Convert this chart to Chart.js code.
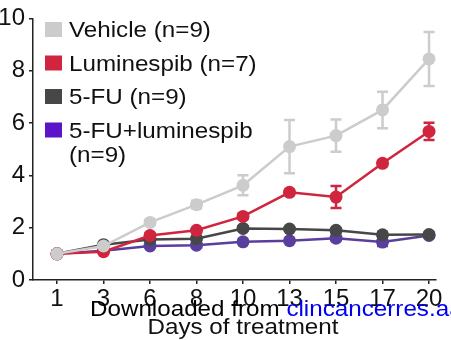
<!DOCTYPE html>
<html lang="en">
<head>
<meta charset="UTF-8">
<title>Tumor volume - days of treatment</title>
<script src="https://cdn.jsdelivr.net/npm/chart.js"></script>
<style>
  html, body { margin: 0; padding: 0; background: #fff; }
</style>
</head>
<body>
<canvas id="grafico" width="451" height="340"></canvas>

<script>
// dados
const dias = ['1', '3', '6', '8', '10', '13', '15', '17', '20'];
const grupos = ['Vehicle (n=9)', 'Luminespib (n=7)', '5-FU (n=9)', '5-FU+luminespib\n(n=9)'];
const vehicle = [1.0, 1.3, 2.2, 2.88, 3.62, 5.1, 5.52, 6.5, 8.45];
const vehicleErr = [0.02, 0.08, 0.1, 0.15, 0.38, 1.02, 0.62, 0.7, 1.03];
const luminespib = [1.0, 1.08, 1.7, 1.9, 2.43, 3.35, 3.17, 4.46, 5.68];
const luminespibErr = [0.02, 0.05, 0.1, 0.08, 0.1, 0.1, 0.42, 0.1, 0.33];
const fu = [1.0, 1.35, 1.55, 1.58, 1.97, 1.95, 1.9, 1.73, 1.74];
const fuErr = [0.02, 0.05, 0.08, 0.08, 0.08, 0.07, 0.08, 0.08, 0.08];
const combo = [1.0, 1.12, 1.3, 1.33, 1.46, 1.5, 1.6, 1.45, 1.7];
const comboErr = [0.02, 0.04, 0.06, 0.06, 0.05, 0.06, 0.08, 0.15, 0.08];
const yTicks = [0, 2, 4, 6, 8, 10];

const cores = ['#cccccc', '#d0253e', '#474747', '#5a3e9c'];
const coresCaixa = ['#cccccc', '#d0253e', '#474747', '#5b14c8'];
const fonte = '"Liberation Sans", Arial, sans-serif';

function pontos(vals) {
    return vals.map((v, i) => ({ x: i, y: v }));
}

const series = [vehicle, luminespib, fu, combo];
const erros = [vehicleErr, luminespibErr, fuErr, comboErr];

// texto um pouco esticado na horizontal como no original
function texto(ctx, t, x, y, cor) {
    ctx.save();
    ctx.translate(x, y);
    ctx.scale(1.1, 1);
    ctx.fillStyle = cor || '#111';
    ctx.fillText(t, 0, 0);
    ctx.restore();
}

const barrasErro = {
    id: 'barrasErro',
    afterDatasetDraw(chart, args) {
        const ctx = chart.ctx;
        const i = args.index;
        const ds = chart.data.datasets[i];
        const xs = chart.scales.x, ys = chart.scales.y;
        ctx.save();
        ctx.strokeStyle = ds.borderColor;
        ctx.lineWidth = 2.5;
        ds.data.forEach((p, j) => {
            const e = erros[i][j];
            const px = xs.getPixelForValue(p.x);
            const top = ys.getPixelForValue(p.y + e);
            const bot = ys.getPixelForValue(p.y - e);
            ctx.beginPath();
            ctx.moveTo(px, top); ctx.lineTo(px, bot);
            ctx.moveTo(px - 5.5, top); ctx.lineTo(px + 5.5, top);
            ctx.moveTo(px - 5.5, bot); ctx.lineTo(px + 5.5, bot);
            ctx.stroke();
        });
        ctx.restore();
    }
};

const legenda = {
    id: 'legenda',
    afterDraw(chart) {
        const ctx = chart.ctx;
        ctx.save();
        ctx.font = '22px ' + fonte;
        ctx.textBaseline = 'alphabetic';
        let y = 29;
        chart.data.datasets.forEach((ds, i) => {
            ctx.fillStyle = coresCaixa[i];
            ctx.fillRect(45, y - 7, 17, 15);
            const linhas = ds.label.split('\n');
            linhas.forEach((t, j) => texto(ctx, t, 69, y + 8 + j * 24));
            y += 33.5 + (linhas.length - 1) * 24;
        });

        // marca d'agua e titulo do eixo x
        ctx.font = '22px ' + fonte;
        texto(ctx, 'Downloaded from ', 90, 316, '#000');
        const w = ctx.measureText('Downloaded from ').width * 1.1;
        texto(ctx, 'clincancerres.aacrjournals.org', 90 + w, 316, '#0000ee');
        const tw = ctx.measureText('Days of treatment').width * 1.1;
        texto(ctx, 'Days of treatment', 243 - tw / 2, 334, '#111');
        ctx.restore();
    }
};

const data = {
    datasets: grupos.map((g, i) => ({
        label: g,
        data: pontos(series[i]),
        borderColor: cores[i],
        backgroundColor: cores[i],
        pointBackgroundColor: cores[i],
        pointBorderWidth: 0,
        pointRadius: 6.5,
        borderWidth: 2.5,
        tension: 0
    }))
};

const config = {
    type: 'line',
    data: data,
    options: {
        responsive: false,
        animation: false,
        layout: {
            padding: { top: 14, right: 15, left: 0, bottom: 0 }
        },
        scales: {
            x: {
                type: 'linear',
                min: -0.516,
                max: 8.15,
                afterBuildTicks: s => { s.ticks = dias.map((d, i) => ({ value: i })); },
                afterFit: s => { s.height = 60; },
                ticks: {
                    callback: v => dias[v],
                    color: '#111',
                    padding: 1,
                    maxRotation: 0,
                    autoSkip: false,
                    font: { family: fonte, size: 24 }
                },
                grid: { drawOnChartArea: false, drawTicks: true, tickLength: 4, color: '#222', lineWidth: 1.5 },
                border: { display: true, color: '#222', width: 1.5 }
            },
            y: {
                min: 0,
                max: 10,
                afterBuildTicks: s => { s.ticks = yTicks.map(v => ({ value: v })); },
                afterFit: s => { s.width = 33; },
                ticks: {
                    color: '#111',
                    padding: 4,
                    font: { family: fonte, size: 24 }
                },
                grid: { drawOnChartArea: false, drawTicks: true, tickLength: 4, color: '#222', lineWidth: 1.5 },
                border: { display: true, color: '#222', width: 1.5 }
            }
        },
        plugins: {
            legend: { display: false },
            tooltip: { enabled: false }
        }
    },
    plugins: [barrasErro, legenda]
};

new Chart(document.getElementById('grafico'), config);
</script>
</body>
</html>
